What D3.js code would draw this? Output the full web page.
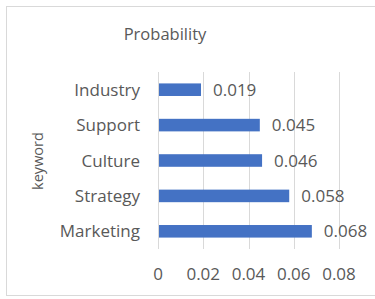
<!DOCTYPE html>
<html>
<head>
<meta charset="utf-8">
<script src="https://cdn.jsdelivr.net/npm/d3@7"></script>
<style>
  body { margin: 0; background: #fff; }
  svg text { font-family: "Open Sans", sans-serif; fill: #595959; }
</style>
</head>
<body>
<div id="chart"></div>
<script>
// data
var keywords = ["Industry", "Support", "Culture", "Strategy", "Marketing"];
var probabilities = [0.019, 0.045, 0.046, 0.058, 0.068];
var xTicks = [0, 0.02, 0.04, 0.06, 0.08];

var width = 375, height = 299;
var rows = keywords.map(function(k, i) { return { keyword: k, value: probabilities[i] }; });

var svg = d3.select("#chart").append("svg")
  .attr("width", width)
  .attr("height", height);

// outer frame
svg.append("rect")
  .attr("x", 6.5).attr("y", 6.5)
  .attr("width", 380).attr("height", 289)
  .attr("fill", "none")
  .attr("stroke", "#d9d9d9");

var x = d3.scaleLinear().domain([0, 0.08]).range([158, 339]);
var y = d3.scaleBand().domain(keywords).range([72, 249]).paddingInner(0.645).paddingOuter(0.3225);

// gridlines
svg.append("g").selectAll("line")
  .data(xTicks)
  .enter().append("line")
    .attr("x1", function(d) { return Math.round(x(d)) + 0.5; })
    .attr("x2", function(d) { return Math.round(x(d)) + 0.5; })
    .attr("y1", 72).attr("y2", 249)
    .attr("stroke", "#d9d9d9");

// bars
svg.append("g").selectAll("rect")
  .data(rows)
  .enter().append("rect")
    .attr("x", x(0) + 1)
    .attr("y", function(d) { return y(d.keyword); })
    .attr("width", function(d) { return x(d.value) - x(0) - 1; })
    .attr("height", y.bandwidth())
    .attr("fill", "#4472c4");

// value labels
svg.append("g").selectAll("text")
  .data(rows)
  .enter().append("text")
    .attr("x", function(d) { return x(d.value) + 12; })
    .attr("y", function(d) { return y(d.keyword) + y.bandwidth() / 2; })
    .attr("dy", "0.36em")
    .style("font-size", "17px")
    .text(function(d) { return d.value.toFixed(3); });

// category labels
svg.append("g").selectAll("text")
  .data(keywords)
  .enter().append("text")
    .attr("x", 140)
    .attr("y", function(d) { return y(d) + y.bandwidth() / 2; })
    .attr("dy", "0.36em")
    .attr("text-anchor", "end")
    .style("font-size", "17px")
    .text(function(d) { return d; });

// x tick labels
svg.append("g").selectAll("text")
  .data(xTicks)
  .enter().append("text")
    .attr("x", function(d) { return x(d); })
    .attr("y", 274)
    .attr("dy", "0.36em")
    .attr("text-anchor", "middle")
    .style("font-size", "17px")
    .text(function(d) { return d === 0 ? "0" : String(d); });

// title
svg.append("text")
  .attr("x", 165).attr("y", 34)
  .attr("dy", "0.36em")
  .attr("text-anchor", "middle")
  .style("font-size", "16.5px")
  .text("Probability");

// y axis title
svg.append("text")
  .attr("transform", "translate(38,161) rotate(-90)")
  .attr("dy", "0.36em")
  .attr("text-anchor", "middle")
  .style("font-size", "14.5px")
  .text("keyword");
</script>
</body>
</html>
